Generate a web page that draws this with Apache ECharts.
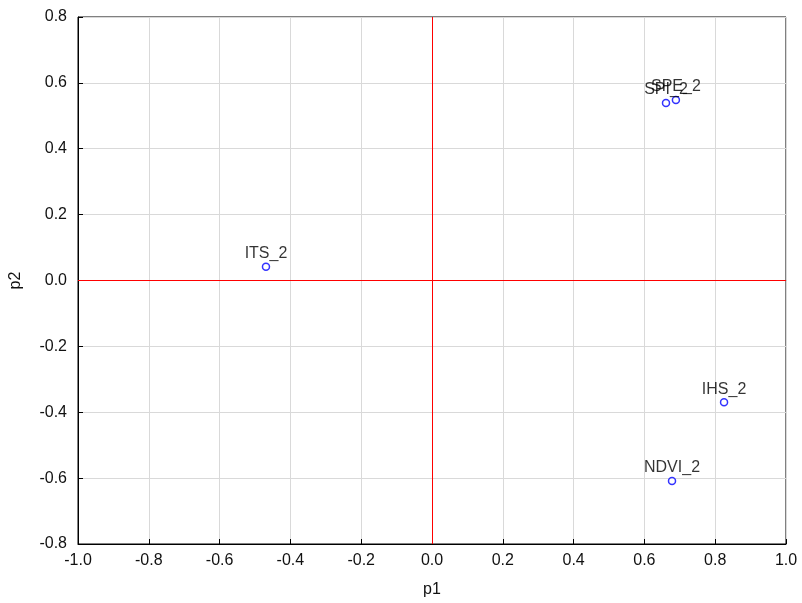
<!DOCTYPE html>
<html>
<head>
<meta charset="utf-8">
<script src="https://cdn.jsdelivr.net/npm/echarts@6/dist/echarts.min.js"></script>
<style>html,body{margin:0;padding:0;background:#fff}#c{width:802px;height:603px}</style>
</head>
<body>
<div id="c"></div>
<script>
var names = ["ITS_2", "SPI_2", "SPE_2", "IHS_2", "NDVI_2"];
var p1 = [-0.469, 0.661, 0.689, 0.825, 0.678];
var p2 = [0.042, 0.539, 0.548, -0.370, -0.609];

var data = names.map(function (n, i) { return { name: n, value: [p1[i], p2[i]] }; });
var font = "Liberation Sans, Arial, sans-serif";
var chart = echarts.init(document.getElementById('c'));
chart.setOption({
  animation: false,
  backgroundColor: '#fff',
  grid: { left: 78, right: 16, top: 17, bottom: 58, show: true, borderColor: '#000', borderWidth: 1, backgroundColor: 'transparent' },
  xAxis: {
    type: 'value', min: -1, max: 1, interval: 0.2,
    name: 'p1', nameLocation: 'middle', nameGap: 38,
    nameTextStyle: { color: '#111', fontSize: 16, fontFamily: font },
    axisLine: { show: true, onZero: false, lineStyle: { color: '#000' } },
    axisTick: { show: true, inside: true, length: 5, lineStyle: { color: '#000' } },
    axisLabel: { color: '#111', fontSize: 16, fontFamily: font, margin: 9, formatter: function (v) { return v.toFixed(1); } },
    splitLine: { show: true, lineStyle: { color: '#d9d9d9', width: 1 } }
  },
  yAxis: {
    type: 'value', min: -0.8, max: 0.8, interval: 0.2,
    name: 'p2', nameLocation: 'middle', nameGap: 54,
    nameTextStyle: { color: '#111', fontSize: 16, fontFamily: font },
    axisLine: { show: true, onZero: false, lineStyle: { color: '#000' } },
    axisTick: { show: true, inside: true, length: 5, lineStyle: { color: '#000' } },
    axisLabel: { color: '#111', fontSize: 16, fontFamily: font, margin: 11, formatter: function (v) { return v.toFixed(1); } },
    splitLine: { show: true, lineStyle: { color: '#d9d9d9', width: 1 } }
  },
  series: [{
    type: 'scatter',
    data: data,
    symbol: 'circle',
    symbolSize: 7,
    itemStyle: { color: '#fff', borderColor: '#0000ff', borderWidth: 1.5 },
    label: { show: true, position: 'top', distance: 1, formatter: '{b}', color: '#000', fontSize: 16, fontFamily: font },
    labelLayout: { hideOverlap: false },
    markLine: {
      silent: true, symbol: ['none', 'none'], animation: false,
      label: { show: false },
      lineStyle: { color: '#ff0000', width: 1, type: 'solid' },
      data: [{ xAxis: 0 }, { yAxis: 0 }]
    },
    z: 5
  }]
});
</script>
</body>
</html>
